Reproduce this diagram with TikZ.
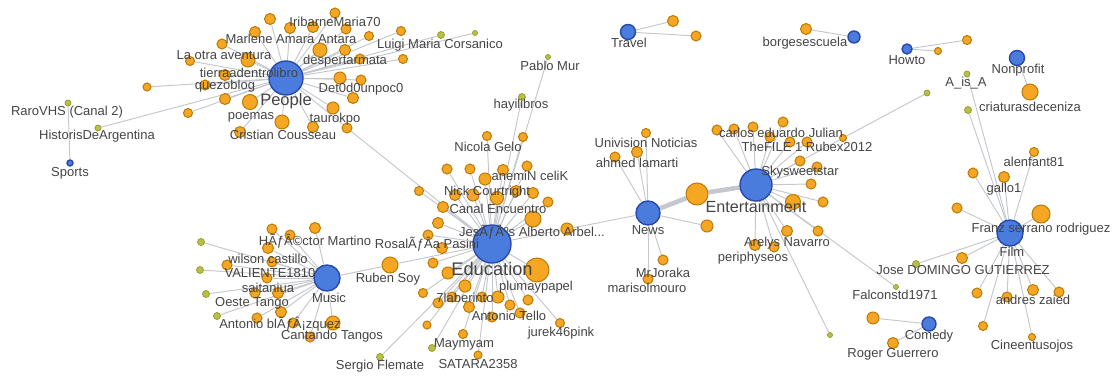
\documentclass[tikz,border=0pt]{standalone}
\usepackage{fontspec}
\setmainfont{Liberation Sans}
\usetikzlibrary{backgrounds}

\definecolor{hubblue}{RGB}{74,124,222}
\definecolor{hubline}{RGB}{40,72,170}
\definecolor{leaforange}{RGB}{245,166,35}
\definecolor{leafline}{RGB}{190,124,10}
\definecolor{olivefill}{RGB}{184,192,70}
\definecolor{oliveline}{RGB}{146,152,40}
\definecolor{linkgray}{RGB}{196,200,206}
\definecolor{labelgray}{RGB}{68,68,68}

\tikzset{
  hub/.style={circle, inner sep=0pt, fill=hubblue, draw=hubline, line width=0.8pt, minimum size=#1*0.02cm},
  leaf/.style={circle, inner sep=0pt, fill=leaforange, draw=leafline, line width=0.6pt, minimum size=#1*0.02cm},
  twig/.style={circle, inner sep=0pt, fill=olivefill, draw=oliveline, line width=0.4pt, minimum size=#1*0.02cm},
  link/.style={draw=linkgray, line width=0.55pt},
  heavylink/.style={draw=linkgray, line width=2.6pt},
  lbl/.style={text=labelgray, font=\fontsize{7.4}{8}\selectfont, inner sep=0pt},
  biglbl/.style={text=labelgray, font=\fontsize{9.4}{10}\selectfont, inner sep=0pt},
}

\begin{document}
\begin{tikzpicture}[x=0.02cm, y=-0.02cm]
  \useasboundingbox (0,0) rectangle (1119,379);

  % hubs
  \node[hub=34] (people) at (286,78) {};
  \node[hub=38] (education) at (492,244) {};
  \node[hub=26] (music) at (327,278) {};
  \node[hub=24] (news) at (648,213) {};
  \node[hub=32] (entertainment) at (756,185) {};
  \node[hub=26] (film) at (1010,233) {};
  \node[hub=15] (travel) at (628,32) {};
  \node[hub=14] (comedy) at (929,324) {};
  \node[hub=10] (howto) at (907,49) {};
  \node[hub=15] (nonprofit) at (1017,58) {};
  \node[hub=12] (borges) at (854,37) {};
  \node[hub=6] (sports) at (70,163) {};

  % nodes shared by two hubs
  \node[leaf=10] (bridge) at (347,128) {};
  \node[leaf=16] (ruben) at (390,265) {};
  \node[leaf=12] (arbel) at (567,229) {};
  \node[leaf=22] (bignews) at (697,194) {};
  \node[twig=7] (sergio) at (380,357) {};
  \node[twig=6] (historis) at (98,128) {};
  \node[twig=6] (rarovhs) at (68,103) {};
  \node[twig=7] (hayilibros) at (522,97) {};
  \node[twig=5] (pablo) at (548,57) {};
  \node[leaf=7] (rubex) at (843,138) {};
  \node[twig=6] (rubextail) at (927,93) {};
  \node[twig=5] (falcon) at (896,287) {};
  \node[twig=5] (lonely) at (830,335) {};
  \node[twig=6] (aisa) at (967,74) {};
  \node[twig=7] (aisatail) at (968,110) {};
  \node[leaf=16] (cenizas) at (1030,92) {};

  \begin{pgfonlayer}{background}
    \draw[link] (people) -- (bridge) -- (education);
    \draw[link] (music) -- (ruben) -- (education);
    \draw[link] (education) -- (arbel) -- (news);
    \draw[heavylink] (news) -- (bignews) -- (entertainment);
    \draw[link] (education) -- (sergio);
    \draw[link] (people) -- (historis);
    \draw[link] (sports) -- (rarovhs);
    \draw[link] (education) -- (hayilibros);
    \draw[link] (education) -- (pablo);
    \draw[link] (entertainment) -- (rubex) -- (rubextail);
    \draw[link] (entertainment) -- (falcon);
    \draw[link] (entertainment) -- (lonely);
    \draw[link] (film) -- (aisa);
    \draw[link] (film) -- (aisatail);
    \draw[link] (nonprofit) -- (cenizas);
  \end{pgfonlayer}

  % People
  \foreach \x/\y/\d [count=\i] in {270/19/11, 290/28/11, 313/27/11, 335/13/10, 346/29/10,
      369/36/9, 401/31/9, 255/32/11, 222/44/10, 248/60/14, 320/50/14, 345/50/11, 360/59/10,
      403/59/9, 190/61/9, 225/75/11, 205/85/10, 147/87/8, 340/78/12, 361/80/10, 225/99/11,
      250/102/15, 353/98/11, 333/108/12, 188/113/9, 282/122/14, 313/127/11, 240/132/11} {
    \node[leaf=\d] (peo\i) at (\x,\y) {};
    \begin{pgfonlayer}{background}\draw[link] (people) -- (peo\i);\end{pgfonlayer}
  }
  \foreach \x/\y/\d [count=\i] in {441/35/7, 475/33/5} {
    \node[twig=\d] (peotw\i) at (\x,\y) {};
    \begin{pgfonlayer}{background}\draw[link] (people) -- (peotw\i);\end{pgfonlayer}
  }

  % Education
  \foreach \x/\y/\d [count=\i] in {487/136/9, 523/137/9, 447/169/10, 470/169/10, 527/166/10,
      503/170/11, 485/179/12, 419/191/9, 455/195/11, 473/195/12, 497/198/13, 516/191/11,
      533/193/11, 548/202/10, 443/207/11, 438/223/11, 533/219/16, 428/235/10, 442/248/11,
      433/263/10, 448/273/12, 537/270/24, 465/286/12, 423/293/9, 452/297/10, 438/303/10,
      469/307/11, 482/297/10, 498/297/12, 510/305/10, 528/300/10, 492/317/10, 520/313/10,
      560/323/9, 427/325/8, 463/334/9, 478/355/8} {
    \node[leaf=\d] (edu\i) at (\x,\y) {};
    \begin{pgfonlayer}{background}\draw[link] (education) -- (edu\i);\end{pgfonlayer}
  }
  \node[twig=7] (edutw1) at (432,348) {};
  \begin{pgfonlayer}{background}\draw[link] (education) -- (edutw1);\end{pgfonlayer}

  % Music
  \foreach \x/\y/\d [count=\i] in {315/228/11, 272/229/10, 290/235/10, 268/248/11, 272/262/10,
      227/265/10, 267/278/10, 255/293/10, 278/293/11, 281/312/11, 257/318/10, 293/323/10,
      333/323/14, 310/337/10} {
    \node[leaf=\d] (mus\i) at (\x,\y) {};
    \begin{pgfonlayer}{background}\draw[link] (music) -- (mus\i);\end{pgfonlayer}
  }
  \foreach \x/\y/\d [count=\i] in {201/242/7, 200/270/7, 206/294/7, 217/316/7} {
    \node[twig=\d] (mustw\i) at (\x,\y) {};
    \begin{pgfonlayer}{background}\draw[link] (music) -- (mustw\i);\end{pgfonlayer}
  }

  % News
  \foreach \x/\y/\d [count=\i] in {646/133/9, 615/157/10, 637/152/11, 663/260/10, 648/279/10,
      707/226/12} {
    \node[leaf=\d] (nws\i) at (\x,\y) {};
    \begin{pgfonlayer}{background}\draw[link] (news) -- (nws\i);\end{pgfonlayer}
  }

  % Entertainment
  \foreach \x/\y/\d [count=\i] in {717/130/10, 734/129/10, 753/127/10, 783/122/10, 770/137/10,
      790/142/10, 807/142/10, 800/161/10, 817/167/10, 811/184/10, 793/202/15, 823/202/10,
      787/231/11, 818/231/10, 755/245/11, 774/247/10} {
    \node[leaf=\d] (ent\i) at (\x,\y) {};
    \begin{pgfonlayer}{background}\draw[link] (entertainment) -- (ent\i);\end{pgfonlayer}
  }

  % Film
  \foreach \x/\y/\d [count=\i] in {1034/152/9, 973/173/10, 1004/177/11, 957/208/10, 1041/214/18,
      962/258/11, 977/293/10, 1007/297/10, 1033/290/11, 1059/292/10, 983/326/9, 1032/337/7} {
    \node[leaf=\d] (flm\i) at (\x,\y) {};
    \begin{pgfonlayer}{background}\draw[link] (film) -- (flm\i);\end{pgfonlayer}
  }
  \node[twig=7] (flmtw1) at (916,264) {};
  \begin{pgfonlayer}{background}\draw[link] (film) -- (flmtw1);\end{pgfonlayer}

  % small groups
  \node[leaf=11] (trv1) at (673,21) {};
  \node[leaf=10] (trv2) at (696,36) {};
  \node[leaf=12] (com1) at (873,318) {};
  \node[leaf=11] (com2) at (893,343) {};
  \node[leaf=11] (brg1) at (806,29) {};
  \node[leaf=7] (hwt1) at (938,51) {};
  \node[leaf=9] (hwt2) at (967,40) {};
  \begin{pgfonlayer}{background}
    \draw[link] (travel) -- (trv1);
    \draw[link] (travel) -- (trv2);
    \draw[link] (comedy) -- (com1);
    \draw[link] (comedy) -- (com2);
    \draw[link] (borges) -- (brg1);
    \draw[link] (howto) -- (hwt1);
    \draw[link] (howto) -- (hwt2);
  \end{pgfonlayer}

  % labels
  \node[biglbl] (lpeople) at (286,101) {People};
  \node[biglbl, font=\fontsize{10.4}{11}\selectfont] (leducation) at (492,269) {Education};
  \node[biglbl, font=\fontsize{9.2}{10}\selectfont] (lentertainment) at (756,207) {Entertainment};
  \node[lbl] (larbel) at (532,232) {JesÃƒÂºs Alberto Arbel...};
  \foreach \x/\y/\t [count=\i] in {335/22/IribarneMaria70, 291/39/Marlene Amara Antara,
      224/55/La otra aventura, 249/73/tierraadentrolibro, 225/86/quezoblog, 251/117/poemas,
      283/135/Cristian Cousseau, 335/119/taurokpo, 361/89/Det0d0unpoc0, 345/61/despertarmata,
      440/45/Luigi Maria Corsanico, 67/112/RaroVHS (Canal 2), 97/136/HistorisDeArgentina,
      70/173/Sports, 550/66/Pablo Mur, 521/105/hayilibros, 488/147/Nicola Gelo,
      530/176/anemiN celiK, 487/192/Nick Courtright, 498/209/Canal Encuentro,
      536/287/plumaypapel, 465/298/7laberinto, 509/316/Antonio Tello, 561/333/jurek46pink,
      464/344/Maymyam, 478/364/SATARA2358, 380/366/Sergio Flemate, 388/279/Ruben Soy,
      427/244/RosalÃƒÂa Pasini, 315/241/HÃƒÂ©ctor Martino, 268/259/wilson castillo,
      270/273/VALIENTE1810, 268/288/saitaniua, 329/298/Music, 252/303/Oeste Tango,
      280/324/Antonio blÃƒÂ¡zquez, 332/336/Cantando Tangos, 646/143/Univision Noticias,
      637/163/ahmed lamarti, 648/230/News, 663/273/MrJoraka, 647/288/marisolmouro,
      781/133/carlos eduardo Julian, 807/147/TheFILE 1 Rubex2012, 800/172/Skysweetstar,
      787/243/Arelys Navarro, 753/258/periphyseos, 1030/107/criaturasdeceniza,
      966/83/A\_is\_A, 1018/70/Nonprofit, 907/60/Howto, 805/43/borgesescuela, 629/43/Travel,
      1034/162/alenfant81, 1004/189/gallo1, 1041/229/Franz serrano rodriguez, 1012/252/Film,
      963/270/Jose DOMINGO GUTIERREZ, 895/295/Falconstd1971, 1033/300/andres zaied,
      929/336/Comedy, 893/354/Roger Guerrero, 1032/346/Cineentusojos} {
    \node[lbl] (lab\i) at (\x,\y) {\t};
  }
\end{tikzpicture}
\end{document}
